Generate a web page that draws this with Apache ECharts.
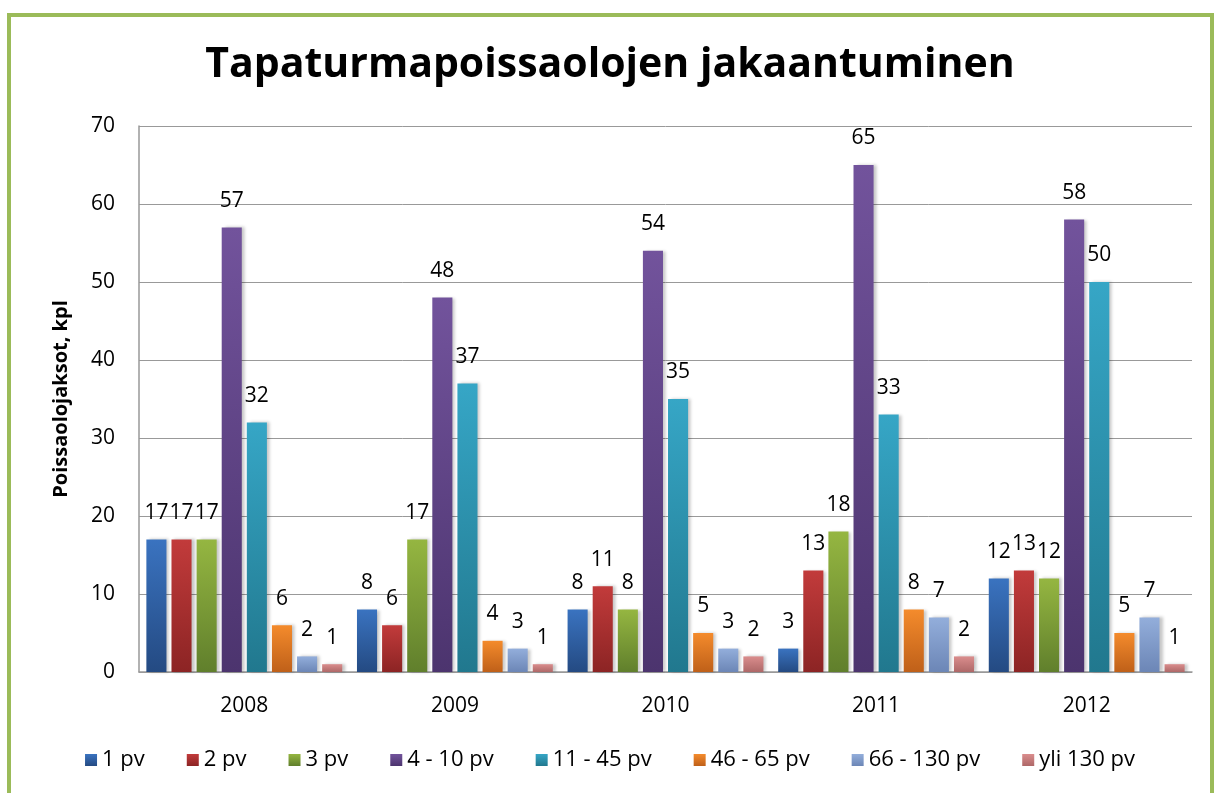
<!DOCTYPE html>
<html>
<head>
<meta charset="utf-8">
<script src="https://cdn.jsdelivr.net/npm/echarts@6/dist/echarts.min.js"></script>
<style>
  html, body { margin: 0; padding: 0; background: #fff; }
  #frame { position: absolute; left: 7px; top: 13px; width: 1207px; height: 800px; border: 4px solid #9bbb59; box-sizing: border-box; }
  #chart { position: absolute; left: 0; top: 0; width: 1220px; height: 793px; }
</style>
</head>
<body>
<div id="frame"></div>
<div id="chart"></div>
<script>
var years = ['2008', '2009', '2010', '2011', '2012']
var seriesNames = ['1 pv', '2 pv', '3 pv', '4 - 10 pv', '11 - 45 pv', '46 - 65 pv', '66 - 130 pv', 'yli 130 pv']
var pv1 = [17, 8, 8, 3, 12]
var pv2 = [17, 6, 11, 13, 13]
var pv3 = [17, 17, 8, 18, 12]
var pv4to10 = [57, 48, 54, 65, 58]
var pv11to45 = [32, 37, 35, 33, 50]
var pv46to65 = [6, 4, 5, 8, 5]
var pv66to130 = [2, 3, 3, 7, 7]
var pvOver130 = [1, 1, 2, 2, 1]

var values = [pv1, pv2, pv3, pv4to10, pv11to45, pv46to65, pv66to130, pvOver130]
// top / bottom colours of each bar gradient
var colors = [
  ['#3a73c0', '#244a82'],
  ['#c23b3b', '#8c2424'],
  ['#95b641', '#607f2c'],
  ['#72539c', '#4c346e'],
  ['#36a6c6', '#21788e'],
  ['#f48b2c', '#bf6019'],
  ['#93aedb', '#6c86b6'],
  ['#da8d8d', '#ae6868']
]

var chart = echarts.init(document.getElementById('chart'))

var series = seriesNames.map(function(name, i) {
  return {
    name: name,
    type: 'bar',
    data: values[i],
    barGap: '25%',
    barCategoryGap: '7%',
    itemStyle: {
      color: new echarts.graphic.LinearGradient(0, 0, 0, 1, [
        { offset: 0, color: colors[i][0] },
        { offset: 1, color: colors[i][1] }
      ]),
      shadowColor: 'rgba(0,0,0,0.22)',
      shadowBlur: 3,
      shadowOffsetX: 3,
      shadowOffsetY: 0
    },
    label: {
      show: true,
      position: 'top',
      distance: 16,
      color: '#000',
      fontSize: 21,
      fontFamily: 'Open Sans'
    }
  }
})

chart.setOption({
  animation: false,
  color: colors.map(function(c) { return c[0] }),
  title: {
    text: 'Tapaturmapoissaolojen jakaantuminen',
    left: 'center',
    top: 40,
    textStyle: {
      fontSize: 41,
      fontWeight: 'bold',
      fontFamily: 'Open Sans',
      color: '#000'
    }
  },
  legend: {
    bottom: 17,
    left: 'center',
    itemWidth: 12,
    itemHeight: 12,
    itemGap: 42,
    icon: 'rect',
    textStyle: { fontSize: 22, fontFamily: 'Open Sans', color: '#000' },
    data: seriesNames
  },
  grid: {
    left: 139,
    right: 28,
    top: 126,
    bottom: 121
  },
  xAxis: {
    type: 'category',
    data: years,
    axisLine: { lineStyle: { color: '#999', width: 1.5 } },
    axisTick: { show: false },
    axisLabel: { fontSize: 21, fontFamily: 'Open Sans', color: '#000', margin: 24 }
  },
  yAxis: {
    type: 'value',
    min: 0,
    max: 70,
    interval: 10,
    name: 'Poissaolojaksot, kpl',
    nameLocation: 'middle',
    nameGap: 68,
    nameTextStyle: { fontSize: 20, fontWeight: 'bold', fontFamily: 'Open Sans', color: '#000' },
    axisLine: { show: true, lineStyle: { color: '#999', width: 1.5 } },
    axisTick: { show: false },
    splitLine: { lineStyle: { color: '#999', width: 1 } },
    axisLabel: { fontSize: 21, fontFamily: 'Open Sans', color: '#000', margin: 24 }
  },
  series: series
})
</script>
</body>
</html>
